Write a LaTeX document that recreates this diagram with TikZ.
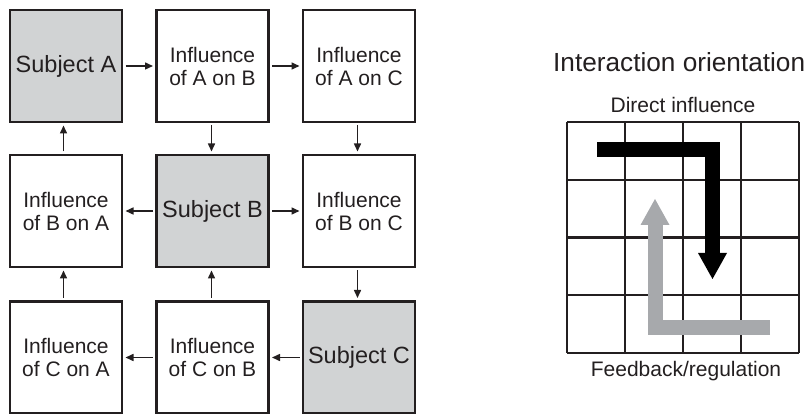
\documentclass[tikz,border=0pt]{standalone}
\usepackage{fontspec}
\setmainfont{Liberation Sans}
\usetikzlibrary{arrows.meta}
\definecolor{ink}{HTML}{231F20}
\definecolor{subjgray}{HTML}{D1D3D4}
\definecolor{fbgray}{HTML}{A7A9AC}
\begin{document}
\begin{tikzpicture}[x=1pt,y=-1pt,
  box/.style={draw=ink, line width=2.3pt, minimum width=112pt, minimum height=112pt,
    inner sep=0pt, outer sep=0pt, align=center, text=ink,
    font=\fontsize{21}{23}\selectfont},
  subj/.style={box, fill=subjgray, font=\fontsize{23.5}{27}\selectfont},
  conn/.style={draw=ink, line width=1.5pt, -{Triangle[length=8pt,width=7pt]},
    shorten <=3.5pt, shorten >=3.5pt},
  gridline/.style={draw=ink, line width=2.4pt},
  lbl/.style={text=ink, inner sep=0pt, anchor=base}]
\useasboundingbox (0,0) rectangle (809,414);
% left matrix
\node[subj] (A)  at (66,66)    {Subject A};
\node[box]  (AB) at (212.5,66) {Influence\\of A on B};
\node[box]  (AC) at (359,66)   {Influence\\of A on C};
\node[box]  (BA) at (66,211)   {Influence\\of B on A};
\node[subj] (B)  at (212.5,211){Subject B};
\node[box]  (BC) at (359,211)  {Influence\\of B on C};
\node[box]  (CA) at (66,357.5) {Influence\\of C on A};
\node[box]  (CB) at (212.5,357.5) {Influence\\of C on B};
\node[subj] (C)  at (359,357.5){Subject C};
% horizontal connectors
\draw[conn] (A) -- (AB);
\draw[conn] (AB) -- (AC);
\draw[conn] (C) -- (CB);
\draw[conn] (CB) -- (CA);
\draw[conn] (B) -- (BA);
\draw[conn] (B) -- (BC);
% vertical connectors
\draw[conn] ([xshift=-1.5pt]AC.south) -- ([xshift=-1.5pt]BC.north);
\draw[conn] ([xshift=-1.5pt]BC.south) -- ([xshift=-1.5pt]C.north);
\draw[conn] ([xshift=-2.5pt]CA.north) -- ([xshift=-2.5pt]BA.south);
\draw[conn] ([xshift=-2.5pt]BA.north) -- ([xshift=-2.5pt]A.south);
\draw[conn] ([xshift=-1pt]AB.south) -- ([xshift=-1pt]B.north);
\draw[conn] ([xshift=-1pt]CB.north) -- ([xshift=-1pt]B.south);
% right panel
\node[lbl, anchor=base west, font=\fontsize{26.2}{30}\selectfont] (title) at (553,72) {Interaction orientation};
\node[lbl, font=\fontsize{21}{24}\selectfont] (top) at (683,113) {Direct influence};
\node[lbl, font=\fontsize{21}{24}\selectfont] (bot) at (686,376) {Feedback/regulation};
\foreach \x in {567,625,683,741,799} \draw[gridline] (\x,122) -- (\x,353);
\foreach \y in {122,179.75,237.5,295.25,353} \draw[gridline] (567,\y) -- (799,\y);
% direct influence arrow
\coordinate (d1) at (597,150);
\coordinate (d2) at (712.5,150);
\coordinate (d3) at (712.5,254);
\draw[black, line width=15pt, line join=miter] (d1) -- (d2) -- (d3);
\fill[black] (698,253) -- (727,253) -- (712.5,279) -- cycle;
% feedback arrow
\coordinate (f1) at (770,327.5);
\coordinate (f2) at (655,327.5);
\coordinate (f3) at (655,224);
\draw[fbgray, line width=15pt, line join=miter] (f1) -- (f2) -- (f3);
\fill[fbgray] (640.5,225) -- (669.5,225) -- (655,199) -- cycle;
\end{tikzpicture}
\end{document}
